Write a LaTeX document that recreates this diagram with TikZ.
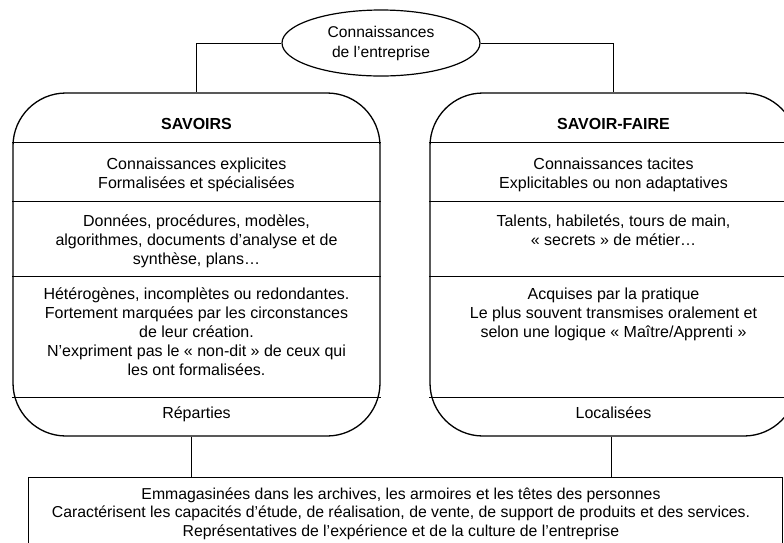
\documentclass[tikz,border=0pt]{standalone}
\usepackage{fontspec}
\setmainfont{Liberation Sans}
\usetikzlibrary{shapes.geometric,positioning}

\begin{document}
\begin{tikzpicture}[x=1pt,y=-1pt,
  every node/.style={font=\fontsize{16}{19}\selectfont, align=center},
  colbox/.style={draw, line width=1.3pt, rounded corners=53pt, minimum width=367pt, minimum height=343pt, inner sep=0pt},
  rowline/.style={draw, line width=1.3pt},
  sectxt/.style={anchor=north, inner sep=0pt},
  link/.style={draw, line width=1pt}]
  \clip (0,0) rectangle (784,542);
  \node[draw, line width=1.2pt, ellipse, minimum width=198pt, minimum height=66pt, inner sep=0pt,
    font=\fontsize{15.6}{20}\selectfont] (ent) at (381,43)
    {Connaissances\\de l’entreprise};
  % the two columns
  \node[colbox] (sav) at (196.5,264.5) {};
  \node[colbox] (sf) at (613.5,264.5) {};
  \foreach \b in {sav,sf}
    \foreach \d in {50,109,184,305}
      \draw[rowline] ([yshift=-\d pt]\b.north west) -- ([yshift=-\d pt]\b.north east);
  \node[inner sep=0pt] (savT) at ([yshift=-32pt]sav.north) {\textbf{SAVOIRS}};
  \node[sectxt] (sav1) at ([yshift=-65pt]sav.north) {Connaissances explicites\\Formalisées et spécialisées};
  \node[sectxt] (sav2) at ([yshift=-122pt]sav.north)
    {Données, procédures, modèles,\\algorithmes, documents d’analyse et de\\synthèse, plans…};
  \node[sectxt] (sav3) at ([yshift=-195pt]sav.north)
    {Hétérogènes, incomplètes ou redondantes.\\Fortement marquées par les circonstances\\de leur création.\\N’expriment pas le «~non-dit~» de ceux qui\\les ont formalisées.};
  \node[sectxt] (sav4) at ([yshift=-314pt]sav.north) {Réparties};
  \node[inner sep=0pt] (sfT) at ([yshift=-32pt]sf.north) {\textbf{SAVOIR-FAIRE}};
  \node[sectxt] (sf1) at ([yshift=-65pt]sf.north) {Connaissances tacites\\Explicitables ou non adaptatives};
  \node[sectxt] (sf2) at ([yshift=-122pt]sf.north)
    {Talents, habiletés, tours de main,\\«~secrets~» de métier…};
  \node[sectxt] (sf3) at ([yshift=-195pt]sf.north)
    {Acquises par la pratique\\Le plus souvent transmises oralement et\\selon une logique «~Maître/Apprenti~»};
  \node[sectxt] (sf4) at ([yshift=-314pt]sf.north) {Localisées};
  % common box, its lower edge falls off the page
  \node[draw, line width=1pt, minimum width=754pt, minimum height=71pt] (store) at (405,512.5) {};
  \node[font=\fontsize{15.8}{18.5}\selectfont, inner sep=0pt] (storetxt) at ([xshift=-4pt,yshift=-1pt]store.center)
    {Emmagasinées dans les archives, les armoires et les têtes des personnes\\
     Caractérisent les capacités d’étude, de réalisation, de vente, de support de produits et des services.\\
     Représentatives de l’expérience et de la culture de l’entreprise};
  \draw[link] (ent.west) -| (sav.north);
  \draw[link] (ent.east) -| (sf.north);
  \draw[link] ([xshift=-5.5pt]sav.south) -- ([xshift=-5.5pt]sav.south |- store.north);
  \draw[link] ([xshift=-2.5pt]sf.south) -- ([xshift=-2.5pt]sf.south |- store.north);
\end{tikzpicture}
\end{document}
